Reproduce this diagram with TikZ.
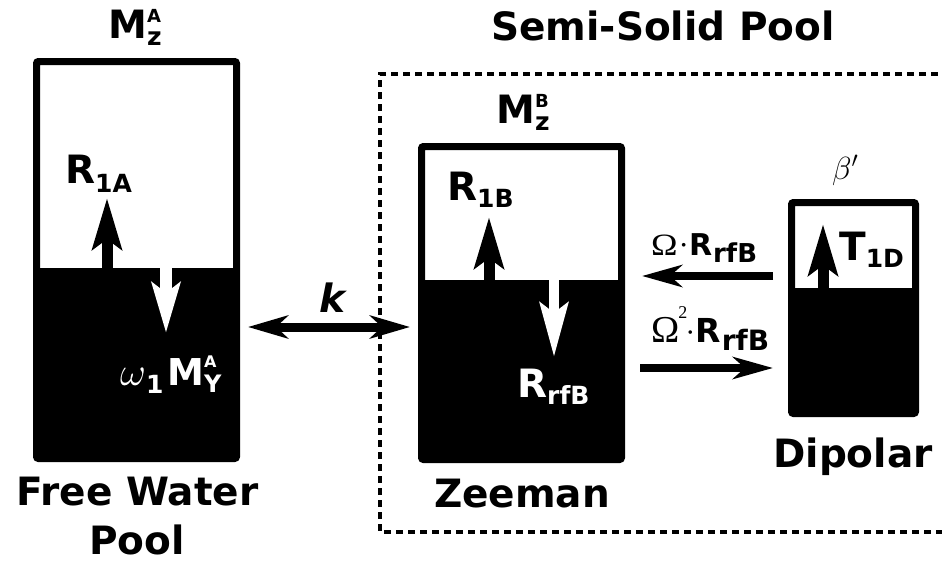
\RequirePackage{fix-cm}
\documentclass[tikz,border=0pt]{standalone}
\usepackage{graphicx}
\usepackage[no-math]{fontspec}
\setmainfont{DejaVu Sans}
\newfontfamily\tms{Liberation Serif}
\usetikzlibrary{arrows.meta}
\newcommand\fs[1]{\fontsize{#1}{#1}\selectfont}
\begin{document}
\begin{tikzpicture}[x=1pt,y=-1pt,
  txt/.style={inner sep=0pt, anchor=base west, font=\bfseries},
  ctr/.style={inner sep=0pt, anchor=base, font=\bfseries\fs{39}},
  box/.style={line width=7pt, rounded corners=2pt},
  harr/.style={line width=8pt, -{Stealth[length=40pt,width=22pt,inset=12pt]}},
  karr/.style={line width=9pt, {Stealth[length=40pt,width=23pt,inset=12pt]}-{Stealth[length=40pt,width=23pt,inset=12pt]}},
  varr/.style={line width=11pt, -{Stealth[length=51pt,width=29pt,inset=10pt]}},
]
\useasboundingbox (0,0) rectangle (942,562);

% semi-solid pool frame (open to the right, cut by the page edge)
\draw[line width=4.5pt, dash pattern=on 7pt off 5pt]
  (950,74) -- (380,74) -- (380,532) -- (950,532);

% free water box
\fill (36.5,268) rectangle (236.5,458.5);
\draw[box] (36.5,61.5) rectangle (236.5,458.5);
% zeeman box
\fill (421.5,280) rectangle (621.5,459.5);
\draw[box] (421.5,146.5) rectangle (621.5,459.5);
% dipolar box
\fill (791.5,288) rectangle (915.5,413.5);
\draw[box] (791.5,202.5) rectangle (915.5,413.5);

% arrow end points
\coordinate (aS) at (107,270);  \coordinate (aE) at (107,198);
\coordinate (wS) at (166,268);  \coordinate (wE) at (166,333);
\coordinate (bS) at (489,282);  \coordinate (bE) at (489,217);
\coordinate (zS) at (554,280);  \coordinate (zE) at (554,357);
\coordinate (dS) at (823,290);  \coordinate (dE) at (823,224);
\coordinate (lS) at (773,276);  \coordinate (lE) at (642,276);
\coordinate (rS) at (640,368);  \coordinate (rE) at (773,368);
\coordinate (kL) at (248,327);  \coordinate (kR) at (410,327);

\draw[varr] (aS) -- (aE);
\draw[white, line width=12pt, -{Stealth[length=50pt,width=28pt,inset=10pt]}] (wS) -- (wE);
\draw[varr] (bS) -- (bE);
\draw[white, line width=10pt, -{Stealth[length=54pt,width=28pt,inset=10pt]}] (zS) -- (zE);
\draw[varr] (dS) -- (dE);
\draw[harr] (lS) -- (lE);
\draw[harr] (rS) -- (rE);
\draw[karr] (kL) -- (kR);

% labels
\node[txt] (mza) at (108,38) {\fs{39}M\rlap{\raisebox{16pt}{\fs{18}A}}\raisebox{-7pt}{\fs{25}z}};
\node[txt] (r1a) at (65,183) {\fs{39}R\raisebox{-9pt}{\fs{25}1A}};
\node[txt, text=white] (wm) at (120,385) {\fs{40}$\omega$\raisebox{-8pt}{\fs{25}1}\hspace{4pt}\fs{37}M\rlap{\raisebox{18pt}{\fs{16}A}}\raisebox{-7pt}{\fs{24}Y}};
\node[txt] (mzb) at (496,123) {\fs{39}M\rlap{\raisebox{16pt}{\fs{18}B}}\raisebox{-7pt}{\fs{25}z}};
\node[txt] (r1b) at (447,200) {\fs{39}R\raisebox{-7pt}{\fs{25}1B}};
\node[txt, text=white] (rrf) at (517,397) {\fs{39}R\raisebox{-7pt}{\fs{25}rfB}};
\node[txt] (t1d) at (839,260) {\fs{39}T\raisebox{-7pt}{\fs{25}1D}};
\node[txt] (lab1) at (651,255) {{\fs{31}\tms\mdseries\scalebox{1.15}[1]{Ω}\hspace{1pt}·}\fs{30}R\hspace{1pt}\raisebox{-7pt}{\fs{26}rfB}};
\node[txt] (lab2) at (651,342) {{\fs{38}\tms\mdseries Ω}\hspace{-1pt}\raisebox{24pt}{\fs{18}\tms\mdseries 2}\hspace{-2pt}{\fs{30}\tms\mdseries ·}\fs{33}R\hspace{1pt}\raisebox{-8pt}{\fs{28}rfB}};
\node[txt] (beta) at (832,179) {\fs{32}$\beta'$};
\node[txt, font=\bfseries\itshape] (k) at (319,312) {\fs{39}k};

\node[ctr] (ssp) at (663,40) {Semi-Solid Pool};
\node[ctr] (fw1) at (137.5,505) {Free Water};
\node[ctr] (fw2) at (137,554) {Pool};
\node[ctr] (zee) at (522,507) {Zeeman};
\node[ctr] (dip) at (853,467) {Dipolar};
\end{tikzpicture}
\end{document}
